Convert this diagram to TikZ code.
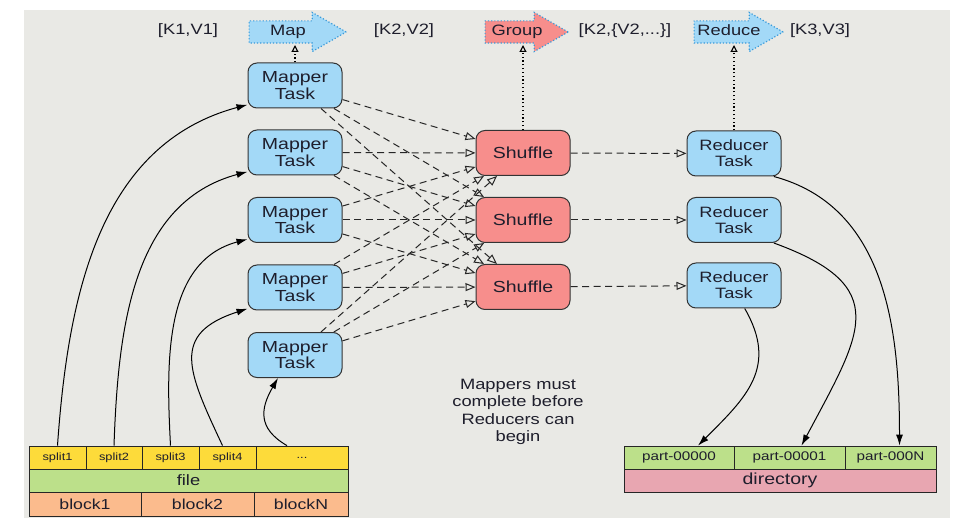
\documentclass[tikz,border=0pt]{standalone}
\usepackage{fontspec}
\setmainfont{Liberation Sans}[FakeStretch=1.22]
\usetikzlibrary{arrows.meta,shapes.arrows}

\definecolor{slide}{HTML}{E9E9E5}
\definecolor{taskblue}{HTML}{A3D9F7}
\definecolor{shufred}{HTML}{F78E8C}
\definecolor{splityel}{HTML}{FDDB3A}
\definecolor{filegreen}{HTML}{BCE08A}
\definecolor{blockorange}{HTML}{FBBB8D}
\definecolor{dirpink}{HTML}{E8A6B1}
\definecolor{dotblue}{HTML}{3A9AD9}
\definecolor{ink}{HTML}{1E1E2C}

\tikzset{
  task/.style={draw=black!80, line width=1pt, rounded corners=9pt, minimum width=94pt,
    minimum height=45pt, inner sep=0pt, align=center, text=ink, font=\fontsize{16}{16.7}\selectfont},
  mapper/.style={task, fill=taskblue},
  shuffle/.style={task, fill=shufred},
  reducer/.style={task, fill=taskblue, font=\fontsize{15}{16}\selectfont},
  cell/.style={draw=black!85, line width=0.8pt, inner sep=0pt, minimum height=23pt, text=ink},
  opbox/.style={single arrow, draw=dotblue, dotted, line width=1.2pt, single arrow head extend=8.5pt,
    single arrow tip angle=60, text height=10pt, text depth=3pt, inner ysep=4pt, inner xsep=2pt,
    text=ink, font=\fontsize{15}{15}\selectfont},
  kv/.style={text=ink, font=\fontsize{15}{15}\selectfont},
  feed/.style={line width=1pt, -{Latex[length=11pt,width=7pt]}},
  flow/.style={draw=black!85, line width=1pt, dash pattern=on 7pt off 4.5pt,
    -{Triangle[open,length=10pt,width=8pt]}},
  upflow/.style={line width=1.1pt, dash pattern=on 1.2pt off 2.6pt, -{Triangle[open,length=7pt,width=7pt]}}
}

\begin{document}
\begin{tikzpicture}[x=1pt,y=-1pt]
\useasboundingbox (0,0) rectangle (953,521);
\fill[slide] (24,10) rectangle (950,518);

% operations on top
\node[opbox, fill=taskblue, minimum height=97pt] (map) at (288,32) {Map};
\node[opbox, fill=shufred, minimum height=83pt] (group) at (517,32) {Group};
\node[opbox, fill=taskblue, minimum height=89pt] (reduce) at (729,32) {Reduce};
\node[kv] (kv1) at (188,31) {[K1,V1]};
\node[kv] (kv2) at (404,31) {[K2,V2]};
\node[kv] (kv2s) at (625,31) {[K2,\{V2,...\}]};
\node[kv] (kv3) at (820,31) {[K3,V3]};
\coordinate (mapfoot) at (295,45);
\coordinate (groupfoot) at (523,45);
\coordinate (reducefoot) at (734,45);

% tasks
\node[mapper] (M1) at (295,85.5) {Mapper\\Task};
\node[mapper] (M2) at (295,152.5) {Mapper\\Task};
\node[mapper] (M3) at (295,220) {Mapper\\Task};
\node[mapper] (M4) at (295,287.5) {Mapper\\Task};
\node[mapper] (M5) at (295,355) {Mapper\\Task};
\node[shuffle] (S1) at (523,153) {Shuffle};
\node[shuffle] (S2) at (523,220) {Shuffle};
\node[shuffle] (S3) at (523,287) {Shuffle};
\node[reducer] (R1) at (734,153.5) {Reducer\\Task};
\node[reducer] (R2) at (734,220) {Reducer\\Task};
\node[reducer] (R3) at (734,285.5) {Reducer\\Task};

\node[text=ink, align=center, font=\fontsize{15}{17.3}\selectfont] (note) at (518,412)
  {Mappers must\\complete before\\Reducers can\\begin};

% input file
\node[cell, fill=splityel, minimum width=57pt, font=\fontsize{10.5}{10.5}\selectfont] (sp1) at (57.5,457.5) {split1};
\node[cell, fill=splityel, minimum width=56pt, font=\fontsize{10.5}{10.5}\selectfont] (sp2) at (114,457.5) {split2};
\node[cell, fill=splityel, minimum width=57pt, font=\fontsize{10.5}{10.5}\selectfont] (sp3) at (170.5,457.5) {split3};
\node[cell, fill=splityel, minimum width=57pt, font=\fontsize{10.5}{10.5}\selectfont] (sp4) at (227.5,457.5) {split4};
\node[cell, fill=splityel, minimum width=92pt, font=\fontsize{10.5}{10.5}\selectfont] (spd) at (302,457.5) {...};
\node[cell, fill=filegreen, minimum width=319pt, font=\fontsize{15}{15}\selectfont] (file) at (188.5,480.5) {file};
\node[cell, fill=blockorange, minimum width=112pt, minimum height=24pt, font=\fontsize{14.5}{14.5}\selectfont] (bk1) at (85,504) {block1};
\node[cell, fill=blockorange, minimum width=113pt, minimum height=24pt, font=\fontsize{14.5}{14.5}\selectfont] (bk2) at (197.5,504) {block2};
\node[cell, fill=blockorange, minimum width=94pt, minimum height=24pt, font=\fontsize{14.5}{14.5}\selectfont] (bkN) at (301,504) {blockN};

% output directory
\node[cell, fill=filegreen, minimum width=110pt, font=\fontsize{12.5}{12.5}\selectfont] (p1) at (679,457.5) {part-00000};
\node[cell, fill=filegreen, minimum width=111pt, font=\fontsize{12.5}{12.5}\selectfont] (p2) at (789.5,457.5) {part-00001};
\node[cell, fill=filegreen, minimum width=91pt, font=\fontsize{12.5}{12.5}\selectfont] (p3) at (890.5,457.5) {part-000N};
\node[cell, fill=dirpink, minimum width=312pt, font=\fontsize{16}{16}\selectfont] (dir) at (780,480.5) {directory};

% splits feed the mappers
\draw[feed] (sp1.north) to[out=86,in=195] (M1.202);
\draw[feed] (sp2.north) to[out=88,in=195] (M2.202);
\draw[feed] (sp3.north) to[out=93,in=195] (M3.202);
\draw[feed] ([xshift=-5pt]sp4.north) to[out=115,in=198,looseness=1.5] (M4.204);
\draw[feed] ([xshift=-15pt]spd.north) to[out=150,in=240,looseness=1.3] ([xshift=-17pt]M5.south);

% every mapper to every shuffle
\draw[flow] (M1) to (S1);
\draw[flow] (M1) to (S2);
\draw[flow] (M1) to (S3);
\draw[flow] (M2) to (S1);
\draw[flow] (M2) to (S2);
\draw[flow] (M2) to (S3);
\draw[flow] (M3) to (S1);
\draw[flow] (M3) to (S2);
\draw[flow] (M3) to (S3);
\draw[flow] (M4) to (S1);
\draw[flow] (M4) to (S2);
\draw[flow] (M4) to (S3);
\draw[flow] (M5) to (S1);
\draw[flow] (M5) to (S2);
\draw[flow] (M5) to (S3);
\draw[flow] (S1) to (R1);
\draw[flow] (S2) to (R2);
\draw[flow] (S3) to (R3);

% reducers write the parts
\draw[feed] (R1.-30) to[out=-15,in=90] ([xshift=9pt]p3.north);
\draw[feed] (R2.-30) to[out=-20,in=62,looseness=1.6] ([xshift=12pt]p2.north);
\draw[feed] (R3.-65) to[out=-60,in=45,looseness=1.2] ([xshift=19pt]p1.north);

% which step each column is
\draw[upflow] (M1) to (mapfoot);
\draw[upflow] (S1) to (groupfoot);
\draw[upflow] (R1) to (reducefoot);
\end{tikzpicture}
\end{document}
